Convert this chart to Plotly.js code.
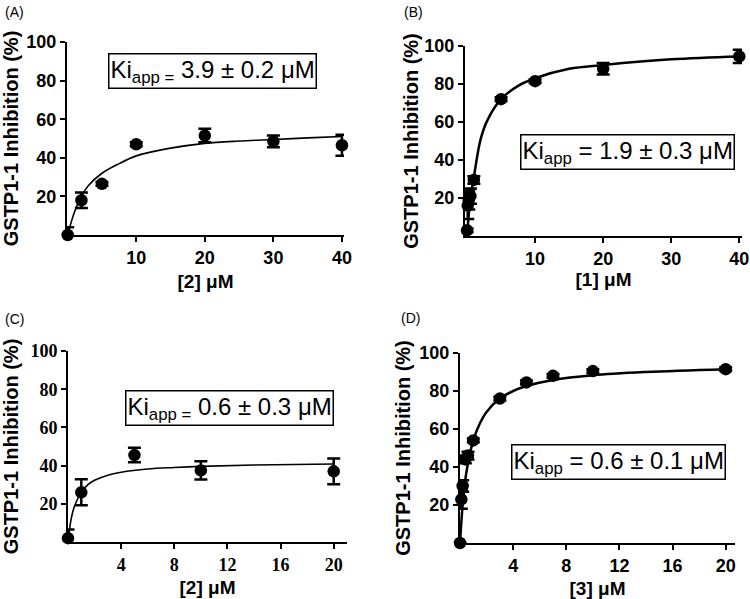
<!DOCTYPE html>
<html><head><meta charset="utf-8">
<script src="https://cdn.plot.ly/plotly-3.0.1.min.js"></script>
<style>html,body{margin:0;padding:0;background:#fff}</style>
</head><body><div id="chart" style="width:750px;height:599px"></div>
<script>
// Panel A: [2] uM (0-40)
const aX = [0, 2, 5, 10, 20, 30, 40];
const aY = [0, 18, 26.5, 47, 51.5, 48.5, 46.5];
const aErr = [4, 4, 1, 1, 3.5, 3, 5.5];
const aFitX = [0, 1, 2, 3, 5, 7.5, 10, 15, 20, 25, 30, 35, 40];
const aFitY = [0, 12, 20, 25.5, 32, 37, 41, 45, 47.5, 48.7, 49.5, 50.3, 51];
// Panel B: [1] uM (0-40)
const bX = [0, 0.1, 0.25, 0.5, 1, 5, 10, 20, 40];
const bY = [3, 16, 19, 21, 29.5, 72, 81.5, 88, 94.5];
const bErr = [1, 7, 5, 4, 2, 1, 1, 3, 3.5];
const bFitX = [0, 0.5, 1, 2, 3, 5, 7.5, 10, 15, 20, 30, 40];
const bFitY = [0, 20, 31, 51, 61, 72, 79, 83, 88, 90, 93, 94.5];
// Panel C: [2] uM (0-20)
const cX = [0, 1, 5, 10, 20];
const cY = [2, 26, 45.5, 37.5, 37];
const cErr = [4.5, 6.8, 3.8, 4.8, 6.7];
const cFitX = [0, 0.25, 0.5, 1, 1.5, 2, 3, 4, 6, 8, 10, 14, 20];
const cFitY = [0, 12.5, 19, 26, 30, 32.3, 35, 36.5, 38.2, 39, 39.6, 40.3, 40.8];
// Panel D: [3] uM (0-20)
const dX = [0, 0.1, 0.2, 0.4, 0.6, 1, 3, 5, 7, 10, 20];
const dY = [0, 23, 30, 44, 46, 54, 76, 84.5, 88, 90.5, 91.5];
const dErr = [0, 5, 3, 2, 2, 1, 1, 1, 1, 1, 1];
const dFitX = [0, 0.1, 0.25, 0.5, 1, 1.5, 2, 3, 4, 5, 7, 10, 14, 20];
const dFitY = [0, 11, 24, 38, 54, 63, 69, 76, 80, 82.6, 85.8, 88.3, 90, 91.5];

const yTicks = [20, 40, 60, 80, 100];
const xTicksAB = [10, 20, 30, 40];
const xTicksCD = [4, 8, 12, 16, 20];
const kiTexts = [
  'Ki<sub>app =</sub> 3.9 \u00b1 0.2 \u03bcM',
  'Ki<sub>app</sub> = 1.9 \u00b1 0.3 \u03bcM',
  'Ki<sub>app =</sub> 0.6 \u00b1 0.3 \u03bcM',
  'Ki<sub>app</sub> = 0.6 \u00b1 0.1 \u03bcM'
];
const xTitles = ['[2] \u03bcM', '[1] \u03bcM', '[2] \u03bcM', '[3] \u03bcM'];
const yTitle = 'GSTP1-1 Inhibition (%)';
const panelLabels = ['(A)', '(B)', '(C)', '(D)'];

const SANS = 'Liberation Sans, Arial, sans-serif';
const SERIF = 'Liberation Serif, Times New Roman, serif';

function pts(x, y, e, xa, ya, ms) {
  return {x: x, y: y, xaxis: xa, yaxis: ya, type: 'scatter', mode: 'markers',
    marker: {color: '#000', size: ms},
    error_y: {type: 'data', array: e, visible: true, color: '#000', thickness: 2.5, width: 6.5},
    cliponaxis: false, showlegend: false, hoverinfo: 'skip'};
}
function fit(x, y, xa, ya, w) {
  return {x: x, y: y, xaxis: xa, yaxis: ya, type: 'scatter', mode: 'lines',
    line: {color: '#000', width: w, shape: 'spline', smoothing: 1},
    cliponaxis: false, showlegend: false, hoverinfo: 'skip'};
}
const data = [
  fit(aFitX, aFitY, 'x', 'y', 1.6), pts(aX, aY, aErr, 'x', 'y', 12.5),
  fit(bFitX, bFitY, 'x2', 'y2', 2.5), pts(bX, bY, bErr, 'x2', 'y2', 12.5),
  fit(cFitX, cFitY, 'x3', 'y3', 1.6), pts(cX, cY, cErr, 'x3', 'y3', 12.5),
  fit(dFitX, dFitY, 'x4', 'y4', 2.5), pts(dX, dY, dErr, 'x4', 'y4', 12.5)
];

function xax(dom, range, ticks, anchor, fam, title, so) {
  return {domain: dom, range: range, anchor: anchor, tickvals: ticks, ticks: 'outside',
    ticklen: 5, tickwidth: 2, tickcolor: '#000', showline: true, linewidth: 2, linecolor: '#000',
    showgrid: false, zeroline: false, automargin: false,
    title: {text: title, standoff: so, font: {family: SANS, size: 19, color: '#000', weight: 'bold'}},
    tickfont: {family: fam, size: 18, color: '#000', weight: 'bold'}};
}
function yax(dom, anchor, fam, so) {
  return {domain: dom, range: [0, 100], anchor: anchor, tickvals: yTicks, ticks: 'outside',
    ticklen: 5, tickwidth: 2, tickcolor: '#000', showline: true, linewidth: 2, linecolor: '#000',
    showgrid: false, zeroline: false, automargin: false,
    title: {text: yTitle, standoff: so, font: {family: SANS, size: 20, color: '#000', weight: 'bold'}},
    tickfont: {family: fam, size: 18, color: '#000', weight: 'bold'}};
}

const W = 750, H = 599;
const px = v => v / W, py = v => 1 - v / H;

const layout = {
  width: W, height: H, margin: {l: 0, r: 0, t: 0, b: 0},
  paper_bgcolor: '#fff', plot_bgcolor: '#fff', showlegend: false,
  xaxis: xax([px(67), px(344)], [-0.1, 40.3], xTicksAB, 'y', SANS, xTitles[0], 8),
  yaxis: yax([py(235), py(42)], 'x', SANS, 10),
  xaxis2: xax([px(465), px(742)], [-0.3, 40.4], xTicksAB, 'y2', SANS, xTitles[1], 4),
  yaxis2: yax([py(236), py(46)], 'x2', SANS, 0),
  xaxis3: xax([px(68), px(347)], [0, 21], xTicksCD, 'y3', SERIF, xTitles[2], 7),
  yaxis3: yax([py(542), py(351)], 'x3', SERIF, 14),
  xaxis4: xax([px(460), px(735)], [0, 20.7], xTicksCD, 'y4', SANS, xTitles[3], 9),
  yaxis4: yax([py(543), py(353)], 'x4', SANS, 3),
  annotations: []
};

// Ki boxes (centers in px)
const boxC = [[213, 71], [627, 152], [230, 408], [618, 462]];
kiTexts.forEach((t, i) => {
  layout.annotations.push({xref: 'paper', yref: 'paper', x: px(boxC[i][0]), y: py(boxC[i][1]),
    xanchor: 'center', yanchor: 'middle', text: t, showarrow: false,
    font: {family: SANS, size: 24, color: '#000'},
    bordercolor: '#000', borderwidth: 1.5, borderpad: 1, bgcolor: '#fff'});
});
// panel labels
const pl = [[14, 12], [413, 12], [14, 319], [410, 318]];
pl.forEach((p, i) => layout.annotations.push({xref: 'paper', yref: 'paper', x: px(p[0]), y: py(p[1]),
  xanchor: 'center', yanchor: 'middle', text: panelLabels[i], showarrow: false,
  font: {family: SANS, size: 14, color: '#000'}}));

Plotly.newPlot('chart', data, layout, {staticPlot: true, displayModeBar: false});
</script></body></html>
